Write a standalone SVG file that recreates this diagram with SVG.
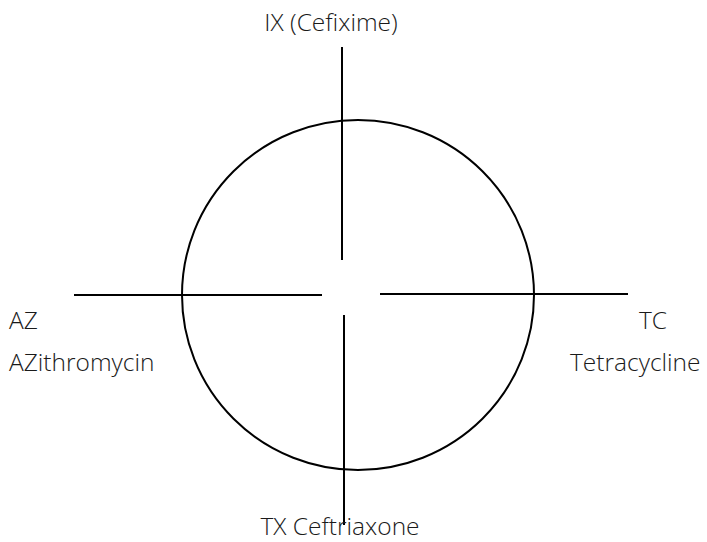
<svg xmlns="http://www.w3.org/2000/svg" width="707" height="542" viewBox="0 0 707 542">
<style>
.t{font-family:"Open Sans","Noto Sans","DejaVu Sans",sans-serif;font-weight:300;font-size:24.5px;fill:#1a1a1a}
.l{stroke:#000;stroke-width:2;fill:none}
</style>
<rect width="707" height="542" fill="#fff"/>
<g id="circle"><ellipse class="l" cx="358" cy="295" rx="176" ry="175"/></g>
<g id="connectors">
<line class="l" x1="342" y1="47" x2="342" y2="260"/>
<line class="l" x1="74" y1="295" x2="322" y2="295"/>
<line class="l" x1="380" y1="294" x2="628" y2="294"/>
<line class="l" x1="344" y1="315" x2="344" y2="525"/>
</g>
<g id="ix"><text class="t" x="331" y="31" text-anchor="middle">IX (Cefixime)</text></g>
<g id="az"><text class="t" x="9" y="329">AZ</text><text class="t" x="9" y="371">AZithromycin</text></g>
<g id="tc"><text class="t" x="639" y="329">TC</text><text class="t" x="570" y="371">Tetracycline</text></g>
<g id="tx"><text class="t" x="340" y="535" text-anchor="middle">TX Ceftriaxone</text></g>
</svg>
